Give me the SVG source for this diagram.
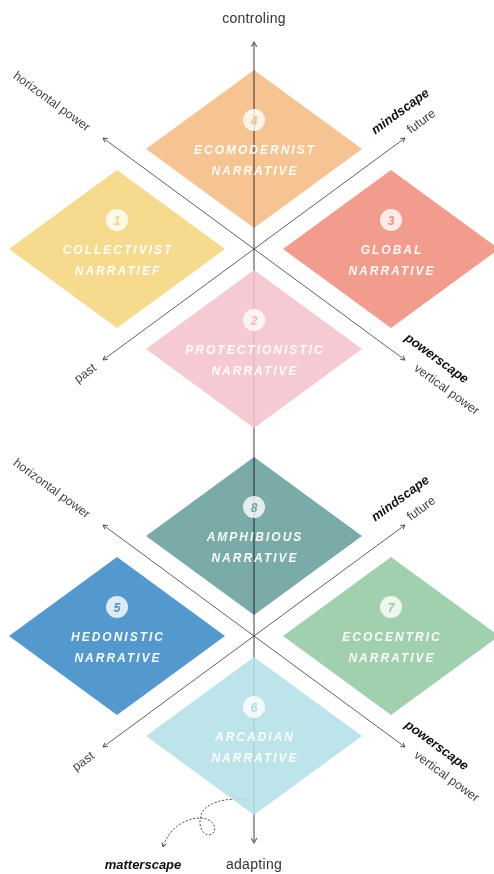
<svg xmlns="http://www.w3.org/2000/svg" xmlns:xlink="http://www.w3.org/1999/xlink" width="494" height="874" viewBox="0 0 494 874">
  <style>
    .axis{stroke:#3a3a3a;stroke-width:0.8;fill:none}
    .spine{stroke:#333;stroke-opacity:.6;stroke-width:1.6;fill:none}
    .curl{stroke:#444;stroke-width:0.9;fill:none;stroke-dasharray:2.2 1.6}
    .title{font-family:"Liberation Sans",Arial,sans-serif;font-weight:bold;font-style:italic;font-size:12px;letter-spacing:2px;fill:#fff;fill-opacity:.95;text-anchor:middle}
    .num{font-family:"Liberation Sans",Arial,sans-serif;font-weight:bold;font-style:italic;font-size:12px;text-anchor:middle}
    .badge{fill:#fff;fill-opacity:.8}
    .shade{mix-blend-mode:multiply}
    .veil{fill-opacity:.88}
    .lab{font-family:"Liberation Sans",Arial,sans-serif;font-size:12.5px;fill:#444;text-anchor:middle}
    .pole{font-family:"Liberation Sans",Arial,sans-serif;font-size:14px;fill:#333;text-anchor:middle;letter-spacing:.3px}
    .key{font-family:"Liberation Sans",Arial,sans-serif;font-weight:bold;font-style:italic;font-size:13px;fill:#111;text-anchor:middle}
  </style>
  <defs>
    <path id="dia" d="M0,-79 L108,0 L0,79 L-108,0 Z"/>
    <marker id="tip" viewBox="0 0 10 10" refX="9" refY="5" markerWidth="6" markerHeight="6" markerUnits="userSpaceOnUse" orient="auto-start-reverse">
      <path d="M2,1 L9,5 L2,9" fill="none" stroke="#444" stroke-width="1.4"/>
    </marker>
    <marker id="tipSpine" viewBox="0 0 10 10" refX="9" refY="5" markerWidth="7" markerHeight="7" markerUnits="userSpaceOnUse" orient="auto-start-reverse">
      <path d="M2,1 L9,5 L2,9" fill="none" stroke="#666" stroke-width="1.6"/>
    </marker>
  </defs>

  <!-- axes: diagonals, vertical spine (controling / adapting) and the curl -->
  <g id="connectors">
    <line class="axis" x1="103" y1="138" x2="405" y2="360" marker-start="url(#tip)" marker-end="url(#tip)"/>
    <line class="axis" x1="103" y1="360" x2="405" y2="138" marker-start="url(#tip)" marker-end="url(#tip)"/>
    <line class="axis" x1="103" y1="525" x2="405" y2="747" marker-start="url(#tip)" marker-end="url(#tip)"/>
    <line class="axis" x1="103" y1="747" x2="405" y2="525" marker-start="url(#tip)" marker-end="url(#tip)"/>
    <line class="spine" x1="254" y1="42" x2="254" y2="843" marker-start="url(#tipSpine)" marker-end="url(#tipSpine)"/>
    <path class="curl" d="M247,800 C228,797 205,802 201,815 C197,828 205,838 212,834 C218,830 214,818 200,818 C184,818 168,830 163,847" marker-end="url(#tip)"/>
  </g>

  <!-- upper cluster -->
  <g id="n4">
    <use class="shade" xlink:href="#dia" x="254" y="149" fill="#F6C493"/>
    <circle class="badge" cx="254" cy="120" r="11"/>
    <text class="num" x="254" y="124.5" fill="#F3BE89">4</text>
    <text class="title" x="255" y="154">ECOMODERNIST</text>
    <text class="title" x="255" y="175">NARRATIVE</text>
  </g>
  <g id="n1">
    <use xlink:href="#dia" x="117" y="249" fill="#F6DA8E"/>
    <circle class="badge" cx="117" cy="220" r="11"/>
    <text class="num" x="117" y="224.5" fill="#F2D27C">1</text>
    <text class="title" x="118" y="254">COLLECTIVIST</text>
    <text class="title" x="118" y="275">NARRATIEF</text>
  </g>
  <g id="n3">
    <use xlink:href="#dia" x="391" y="249" fill="#F29C8E"/>
    <circle class="badge" cx="391" cy="220" r="11"/>
    <text class="num" x="391" y="224.5" fill="#EE9082">3</text>
    <text class="title" x="392" y="254">GLOBAL</text>
    <text class="title" x="392" y="275">NARRATIVE</text>
  </g>
  <g id="n2">
    <use class="veil" xlink:href="#dia" x="254" y="349" fill="#F5C3CD"/>
    <circle class="badge" cx="254" cy="320" r="11"/>
    <text class="num" x="254" y="324.5" fill="#F2B8C4">2</text>
    <text class="title" x="255" y="354">PROTECTIONISTIC</text>
    <text class="title" x="255" y="375">NARRATIVE</text>
  </g>

  <!-- lower cluster -->
  <g id="n8">
    <use class="shade" xlink:href="#dia" x="254" y="536" fill="#7AABA9"/>
    <circle class="badge" cx="254" cy="507" r="11"/>
    <text class="num" x="254" y="511.5" fill="#74A6A4">8</text>
    <text class="title" x="255" y="541">AMPHIBIOUS</text>
    <text class="title" x="255" y="562">NARRATIVE</text>
  </g>
  <g id="n5">
    <use xlink:href="#dia" x="117" y="636" fill="#5499CE"/>
    <circle class="badge" cx="117" cy="607" r="11"/>
    <text class="num" x="117" y="611.5" fill="#4F93C9">5</text>
    <text class="title" x="118" y="641">HEDONISTIC</text>
    <text class="title" x="118" y="662">NARRATIVE</text>
  </g>
  <g id="n7">
    <use xlink:href="#dia" x="391" y="636" fill="#A0D0AE"/>
    <circle class="badge" cx="391" cy="607" r="11"/>
    <text class="num" x="391" y="611.5" fill="#98CBA6">7</text>
    <text class="title" x="392" y="641">ECOCENTRIC</text>
    <text class="title" x="392" y="662">NARRATIVE</text>
  </g>
  <g id="n6">
    <use class="veil" xlink:href="#dia" x="254" y="736" fill="#B5E0E8"/>
    <circle class="badge" cx="254" cy="707" r="11"/>
    <text class="num" x="254" y="711.5" fill="#ADDBE4">6</text>
    <text class="title" x="255" y="741">ARCADIAN</text>
    <text class="title" x="255" y="762">NARRATIVE</text>
  </g>

  <!-- axis labels -->
  <g id="labels">
    <text class="pole" x="254" y="23">controling</text>
    <text class="pole" x="254" y="869">adapting</text>
    <text class="key" x="143" y="869">matterscape</text>

    <text class="lab" dy=".35em" transform="translate(52,101) rotate(36.2)">horizontal power</text>
    <text class="key" dy=".35em" transform="translate(400,111) rotate(-36.2)">mindscape</text>
    <text class="lab" dy=".35em" transform="translate(421,121) rotate(-36.2)">future</text>
    <text class="lab" dy=".35em" transform="translate(85,373) rotate(-36.2)">past</text>
    <text class="key" dy=".35em" transform="translate(437,358) rotate(36.2)">powerscape</text>
    <text class="lab" dy=".35em" transform="translate(447,389) rotate(36.2)">vertical power</text>

    <text class="lab" dy=".35em" transform="translate(52,488) rotate(36.2)">horizontal power</text>
    <text class="key" dy=".35em" transform="translate(400,498) rotate(-36.2)">mindscape</text>
    <text class="lab" dy=".35em" transform="translate(421,508) rotate(-36.2)">future</text>
    <text class="lab" dy=".35em" transform="translate(83,761) rotate(-36.2)">past</text>
    <text class="key" dy=".35em" transform="translate(437,745) rotate(36.2)">powerscape</text>
    <text class="lab" dy=".35em" transform="translate(447,776) rotate(36.2)">vertical power</text>
  </g>
</svg>
